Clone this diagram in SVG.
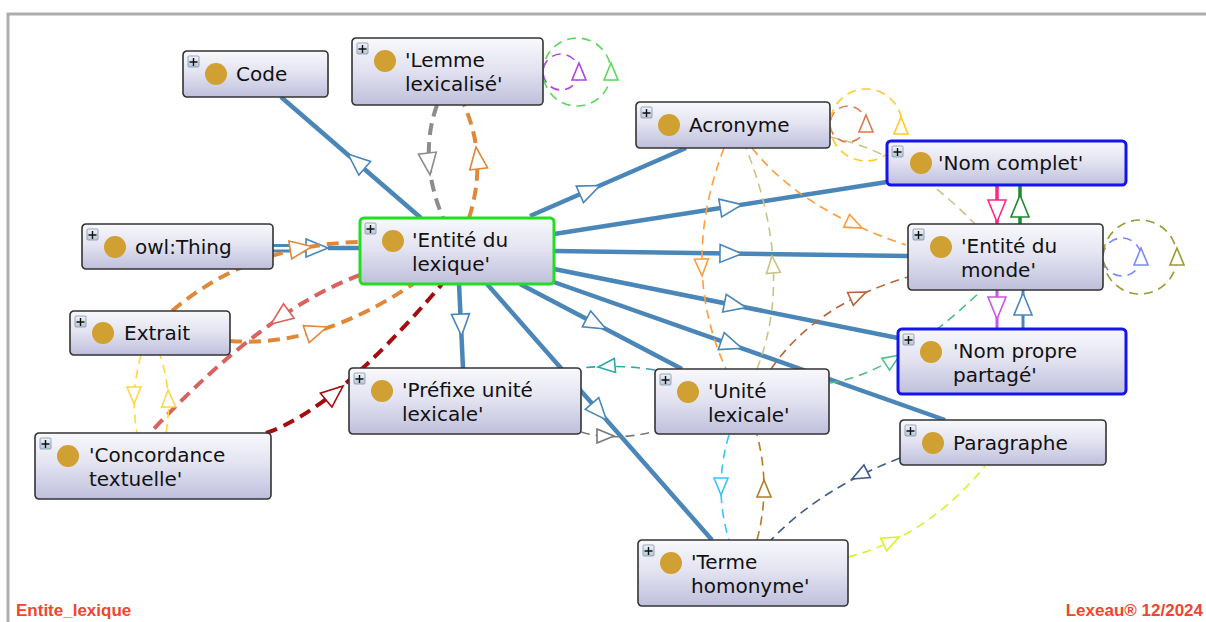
<svg xmlns="http://www.w3.org/2000/svg" xmlns:xlink="http://www.w3.org/1999/xlink" width="1206" height="622" viewBox="0 0 1206 622">
<defs>
<linearGradient id="g" x1="0" y1="0" x2="0" y2="1">
<stop offset="0" stop-color="#f8f8fc"/>
<stop offset="0.45" stop-color="#e4e4f2"/>
<stop offset="1" stop-color="#bfbfdc"/>
</linearGradient>
<linearGradient id="pg" x1="0" y1="0" x2="0" y2="1">
<stop offset="0" stop-color="#f2f5fa"/>
<stop offset="1" stop-color="#b8c6d8"/>
</linearGradient>
<path id="tk" d="M0,0 L-22,-9 L-22,9 Z"/>
<path id="tn" d="M0,0 L-17,-7 L-17,7 Z"/>
<style>
.b{fill:url(#g);stroke:#333;stroke-width:1.6}
.bb{fill:url(#g);stroke:#1414f0;stroke-width:3}
.bg{fill:url(#g);stroke:#22dd22;stroke-width:3}
.pb{fill:url(#pg);stroke:#8093ab;stroke-width:0.8}
.pl{stroke:#111;stroke-width:1.4;fill:none}
.dot{fill:#d1a032}
.t{font-family:"DejaVu Sans","Noto Sans",sans-serif;font-size:20px;fill:#111}
.s{fill:none;stroke:#4a86b8;stroke-width:4.5}
.dk{fill:none;stroke-width:4;stroke-dasharray:12 7}
.dn{fill:none;stroke-width:1.6;stroke-dasharray:9 6}
.a{fill:#fff;stroke-width:1.6}
.lbl{font-family:"Liberation Sans",Arial,sans-serif;font-weight:bold;font-size:17px;fill:#f0452f}
</style>
</defs>
<rect width="1206" height="622" fill="#fff"/>
<path d="M8,622 V14 H1206" fill="none" stroke="#adadad" stroke-width="3"/>

<g id="connectors">
<!-- solid subclass edges -->
<path class="s" d="M421,218 L281,97"/>
<use href="#tk" class="a" stroke="#4a86b8" transform="translate(348,154) rotate(220.5)"/>
<path class="s" style="stroke-width:3" d="M273,245.5 H306 M273,251 H306"/>
<path class="s" d="M328,248 H360"/>
<use href="#tk" class="a" stroke="#4a86b8" transform="translate(328,248)"/>
<path class="s" d="M530,216 L686,148"/>
<use href="#tk" class="a" stroke="#4a86b8" transform="translate(600,185.5) rotate(-23.7)"/>
<path class="s" d="M554,234 L887,182"/>
<use href="#tk" class="a" stroke="#4a86b8" transform="translate(742,204.6) rotate(-8.9)"/>
<path class="s" d="M554,251 L908,256"/>
<use href="#tk" class="a" stroke="#4a86b8" transform="translate(742,253.7) rotate(0.8)"/>
<path class="s" d="M554,269 L898,338"/>
<use href="#tk" class="a" stroke="#4a86b8" transform="translate(746,307.5) rotate(11.3)"/>
<path class="s" d="M548,280 L945,420"/>
<use href="#tk" class="a" stroke="#4a86b8" transform="translate(742,348.4) rotate(19.4)"/>
<path class="s" d="M520,284 L682,369"/>
<use href="#tk" class="a" stroke="#4a86b8" transform="translate(606,329.1) rotate(27.7)"/>
<path class="s" d="M459,284 L463,368"/>
<use href="#tk" class="a" stroke="#4a86b8" transform="translate(461.5,336) rotate(87.3)"/>
<path class="s" d="M487,284 L712,540"/>
<use href="#tk" class="a" stroke="#4a86b8" transform="translate(606.5,420) rotate(48.7)"/>

<!-- right-side vertical edges -->
<path d="M997,186 V224" stroke="#ff2a7f" stroke-width="3.5" fill="none"/>
<use href="#tk" class="a" stroke="#ff2a7f" transform="translate(997,222) rotate(90)"/>
<path d="M1020,186 V224" stroke="#1d8a2e" stroke-width="3.5" fill="none"/>
<use href="#tk" class="a" stroke="#1d8a2e" transform="translate(1020,195) rotate(-90)"/>
<path d="M997,290 V329" stroke="#c455e8" stroke-width="3" fill="none"/>
<use href="#tk" class="a" stroke="#c455e8" transform="translate(997,319) rotate(90)"/>
<path d="M1023,290 V329" stroke="#4a86b8" stroke-width="3" fill="none"/>
<use href="#tk" class="a" stroke="#4a86b8" transform="translate(1023,293) rotate(-90)"/>

<!-- self loops -->
<circle class="dn" cx="561" cy="72" r="18" stroke="#b044e0"/>
<use href="#tn" class="a" stroke="#b044e0" transform="translate(579,63) rotate(-90)"/>
<circle class="dn" cx="577" cy="72" r="34" stroke="#5ad85a"/>
<use href="#tn" class="a" stroke="#5ad85a" transform="translate(611,63) rotate(-90)"/>
<circle class="dn" cx="848" cy="124" r="18" stroke="#dd7a4a"/>
<use href="#tn" class="a" stroke="#dd7a4a" transform="translate(866,115) rotate(-90)"/>
<circle class="dn" cx="866" cy="125" r="36" stroke="#ffcc22"/>
<use href="#tn" class="a" stroke="#ffcc22" transform="translate(901,117) rotate(-90)"/>
<circle class="dn" cx="1122" cy="257" r="19" stroke="#7a88ff"/>
<use href="#tn" class="a" stroke="#7a88ff" transform="translate(1141,248) rotate(-90)"/>
<circle class="dn" cx="1140" cy="257" r="37" stroke="#9a9a30"/>
<use href="#tn" class="a" stroke="#9a9a30" transform="translate(1177,248) rotate(-90)"/>

<!-- thick dashed edges -->
<path class="dk" stroke="#8c8c8c" d="M437,105 Q418,158 443,218"/>
<use href="#tk" class="a" stroke="#8c8c8c" transform="translate(430,175) rotate(83)"/>
<path class="dk" stroke="#e0883a" d="M469,218 Q488,158 464,105"/>
<use href="#tk" class="a" stroke="#e0883a" transform="translate(476,147) rotate(-97)"/>
<path class="dk" stroke="#e0883a" d="M172,311 Q250,245 359,242"/>
<use href="#tk" class="a" stroke="#e0883a" transform="translate(312,246.5) rotate(-9)"/>
<path class="dk" stroke="#e0883a" d="M230,341 Q318,348 413,284"/>
<use href="#tk" class="a" stroke="#e0883a" transform="translate(327,327) rotate(-19)"/>
<path class="dk" stroke="#d9625f" d="M360,275 Q265,310 150,433"/>
<use href="#tk" class="a" stroke="#d9625f" transform="translate(271,324) rotate(144)"/>
<path class="dk" stroke="#a50d0d" d="M266,433 Q335,410 442,284"/>
<use href="#tk" class="a" stroke="#a50d0d" transform="translate(343,386) rotate(-40)"/>

<!-- thin dashed edges -->
<path class="dn" stroke="#ffd740" d="M141,355 Q130,394 137,433"/>
<use href="#tn" class="a" stroke="#ffd740" transform="translate(134,404) rotate(90)"/>
<path class="dn" stroke="#ffd740" d="M166,433 Q173,394 160,355"/>
<use href="#tn" class="a" stroke="#ffd740" transform="translate(168,390) rotate(-92)"/>
<path class="dn" stroke="#7a7a7a" d="M581,432 Q615,442 656,431"/>
<use href="#tn" class="a" stroke="#7a7a7a" transform="translate(614,436)"/>
<path class="dn" stroke="#2aa7a7" d="M655,370 Q618,364 582,368"/>
<use href="#tn" class="a" stroke="#2aa7a7" transform="translate(598,367) rotate(175)"/>
<path class="dn" stroke="#ff9c3a" d="M724,148 Q679,266 726,369"/>
<use href="#tn" class="a" stroke="#ff9c3a" transform="translate(702,276) rotate(88)"/>
<path class="dn" stroke="#c9c38a" d="M757,369 Q795,272 746,148"/>
<use href="#tn" class="a" stroke="#c9c38a" transform="translate(772,256) rotate(-95)"/>
<path class="dn" stroke="#ff9c3a" d="M752,148 Q801,210 906,245"/>
<use href="#tn" class="a" stroke="#ff9c3a" transform="translate(862,228) rotate(25)"/>
<path class="dn" stroke="#c9c38a" d="M830,137 Q905,152 975,224"/>
<path class="dn" stroke="#b5653c" d="M771,369 Q816,304 908,277"/>
<use href="#tn" class="a" stroke="#b5653c" transform="translate(866,292) rotate(-24)"/>
<path class="dn" stroke="#4dbf84" d="M830,383 Q894,374 982,290"/>
<use href="#tn" class="a" stroke="#4dbf84" transform="translate(900,355) rotate(-33)"/>
<path class="dn" stroke="#35c6f4" d="M729,435 Q713,488 729,540"/>
<use href="#tn" class="a" stroke="#35c6f4" transform="translate(721,495) rotate(90)"/>
<path class="dn" stroke="#b27c25" d="M757,540 Q771,488 757,435"/>
<use href="#tn" class="a" stroke="#b27c25" transform="translate(764,480) rotate(-90)"/>
<path class="dn" stroke="#3d5e8c" d="M900,458 Q820,489 771,540"/>
<use href="#tn" class="a" stroke="#3d5e8c" transform="translate(852,479) rotate(153)"/>
<path class="dn" stroke="#d6f229" d="M848,557 Q927,537 985,466"/>
<use href="#tn" class="a" stroke="#d6f229" transform="translate(899,537) rotate(-26)"/>
</g>

<g id="nodes">
<g id="n-code" transform="translate(183,51)">
<rect class="b" width="145" height="46" rx="4"/>
<rect class="pb" x="5" y="5" width="11" height="11" rx="1"/>
<path class="pl" d="M10.5,7 v8 M6.5,11 h8"/>
<circle class="dot" cx="33" cy="23" r="11"/>
<text class="t" x="53" y="30">Code</text>
</g>
<g id="n-lemme" transform="translate(352,38)">
<rect class="b" width="191" height="67" rx="4"/>
<rect class="pb" x="5" y="5" width="11" height="11" rx="1"/>
<path class="pl" d="M10.5,7 v8 M6.5,11 h8"/>
<circle class="dot" cx="33" cy="23" r="11"/>
<text class="t" x="53" y="29">'Lemme</text>
<text class="t" x="53" y="53">lexicalisé'</text>
</g>
<g id="n-acronyme" transform="translate(636,102)">
<rect class="b" width="194" height="46" rx="4"/>
<rect class="pb" x="5" y="5" width="11" height="11" rx="1"/>
<path class="pl" d="M10.5,7 v8 M6.5,11 h8"/>
<circle class="dot" cx="33" cy="23" r="11"/>
<text class="t" x="53" y="30">Acronyme</text>
</g>
<g id="n-nomcomplet" transform="translate(887,141)">
<rect class="bb" width="239" height="44" rx="4"/>
<rect class="pb" x="5" y="5" width="11" height="11" rx="1"/>
<path class="pl" d="M10.5,7 v8 M6.5,11 h8"/>
<circle class="dot" cx="34" cy="22" r="11"/>
<text class="t" x="51" y="29">'Nom complet'</text>
</g>
<g id="n-entitelexique" transform="translate(360,218)">
<rect class="bg" width="194" height="66" rx="4"/>
<rect class="pb" x="5" y="5" width="11" height="11" rx="1"/>
<path class="pl" d="M10.5,7 v8 M6.5,11 h8"/>
<circle class="dot" cx="33" cy="23" r="11"/>
<text class="t" x="52" y="29">'Entité du</text>
<text class="t" x="52" y="53">lexique'</text>
</g>
<g id="n-owlthing" transform="translate(82,224)">
<rect class="b" width="191" height="45" rx="4"/>
<rect class="pb" x="5" y="5" width="11" height="11" rx="1"/>
<path class="pl" d="M10.5,7 v8 M6.5,11 h8"/>
<circle class="dot" cx="33" cy="23" r="11"/>
<text class="t" x="53" y="30">owl:Thing</text>
</g>
<g id="n-entitemonde" transform="translate(908,224)">
<rect class="b" width="195" height="66" rx="4"/>
<rect class="pb" x="5" y="5" width="11" height="11" rx="1"/>
<path class="pl" d="M10.5,7 v8 M6.5,11 h8"/>
<circle class="dot" cx="33" cy="23" r="11"/>
<text class="t" x="53" y="29">'Entité du</text>
<text class="t" x="53" y="53">monde'</text>
</g>
<g id="n-extrait" transform="translate(70,311)">
<rect class="b" width="160" height="44" rx="4"/>
<rect class="pb" x="5" y="5" width="11" height="11" rx="1"/>
<path class="pl" d="M10.5,7 v8 M6.5,11 h8"/>
<circle class="dot" cx="33" cy="22" r="11"/>
<text class="t" x="54" y="29">Extrait</text>
</g>
<g id="n-nompropre" transform="translate(898,329)">
<rect class="bb" width="228" height="65" rx="4"/>
<rect class="pb" x="5" y="5" width="11" height="11" rx="1"/>
<path class="pl" d="M10.5,7 v8 M6.5,11 h8"/>
<circle class="dot" cx="33" cy="23" r="11"/>
<text class="t" x="55" y="29">'Nom propre</text>
<text class="t" x="55" y="53">partagé'</text>
</g>
<g id="n-prefixe" transform="translate(349,368)">
<rect class="b" width="232" height="66" rx="4"/>
<rect class="pb" x="5" y="5" width="11" height="11" rx="1"/>
<path class="pl" d="M10.5,7 v8 M6.5,11 h8"/>
<circle class="dot" cx="33" cy="23" r="11"/>
<text class="t" x="53" y="29">'Préfixe unité</text>
<text class="t" x="53" y="53">lexicale'</text>
</g>
<g id="n-unite" transform="translate(655,369)">
<rect class="b" width="174" height="65" rx="4"/>
<rect class="pb" x="5" y="5" width="11" height="11" rx="1"/>
<path class="pl" d="M10.5,7 v8 M6.5,11 h8"/>
<circle class="dot" cx="33" cy="23" r="11"/>
<text class="t" x="53" y="29">'Unité</text>
<text class="t" x="53" y="53">lexicale'</text>
</g>
<g id="n-paragraphe" transform="translate(900,420)">
<rect class="b" width="206" height="45" rx="4"/>
<rect class="pb" x="5" y="5" width="11" height="11" rx="1"/>
<path class="pl" d="M10.5,7 v8 M6.5,11 h8"/>
<circle class="dot" cx="33" cy="23" r="11"/>
<text class="t" x="53" y="30">Paragraphe</text>
</g>
<g id="n-concordance" transform="translate(35,433)">
<rect class="b" width="236" height="66" rx="4"/>
<rect class="pb" x="5" y="5" width="11" height="11" rx="1"/>
<path class="pl" d="M10.5,7 v8 M6.5,11 h8"/>
<circle class="dot" cx="33" cy="23" r="11"/>
<text class="t" x="54" y="29">'Concordance</text>
<text class="t" x="54" y="53">textuelle'</text>
</g>
<g id="n-terme" transform="translate(638,540)">
<rect class="b" width="210" height="66" rx="4"/>
<rect class="pb" x="5" y="5" width="11" height="11" rx="1"/>
<path class="pl" d="M10.5,7 v8 M6.5,11 h8"/>
<circle class="dot" cx="33" cy="23" r="11"/>
<text class="t" x="53" y="29">'Terme</text>
<text class="t" x="53" y="53">homonyme'</text>
</g>
</g>

<text class="lbl" x="16" y="616">Entite_lexique</text>
<text class="lbl" x="1203" y="616" text-anchor="end">Lexeau® 12/2024</text>
</svg>
